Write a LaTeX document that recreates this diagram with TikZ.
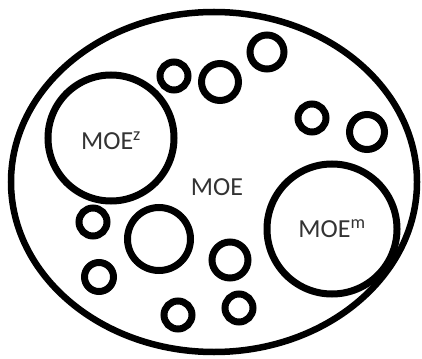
\documentclass[tikz,border=0pt]{standalone}
\usepackage{fontspec}
\setmainfont{Carlito}
\definecolor{txt}{HTML}{333333}
\begin{document}
\begin{tikzpicture}[x=1pt,y=-1pt,
  ring/.style={draw=black,line width=7pt,fill=white,circle,inner sep=0pt},
  lbl/.style={text=txt,font=\fontsize{26}{28}\selectfont}]
\useasboundingbox (0,0) rectangle (422,358);
\draw[line width=6.5pt] (214,182) ellipse [x radius=203, y radius=170];
\node[ring,minimum size=126pt] (z) at (111,138) {};
\node[ring,minimum size=130pt] (m) at (332,229) {};
\node[ring,minimum size=28pt] (c1) at (174,76) {};
\node[ring,minimum size=37pt] (c2) at (220,82) {};
\node[ring,minimum size=34pt] (c3) at (267,52) {};
\node[ring,minimum size=28pt] (c4) at (312,118) {};
\node[ring,minimum size=35pt] (c5) at (367,132) {};
\node[ring,minimum size=28pt] (c6) at (93,222) {};
\node[ring,minimum size=63pt] (c7) at (159,239) {};
\node[ring,minimum size=36pt] (c8) at (230,260) {};
\node[ring,minimum size=29pt] (c9) at (99,277) {};
\node[ring,minimum size=28pt] (c10) at (178,315) {};
\node[ring,minimum size=28pt] (c11) at (239,308) {};
\node[lbl] (tz) at (111,141) {MOE\textsuperscript{z}};
\node[lbl] (tm) at (332,229) {MOE\textsuperscript{m}};
\node[lbl] (t) at (217,187) {MOE};
\end{tikzpicture}
\end{document}
